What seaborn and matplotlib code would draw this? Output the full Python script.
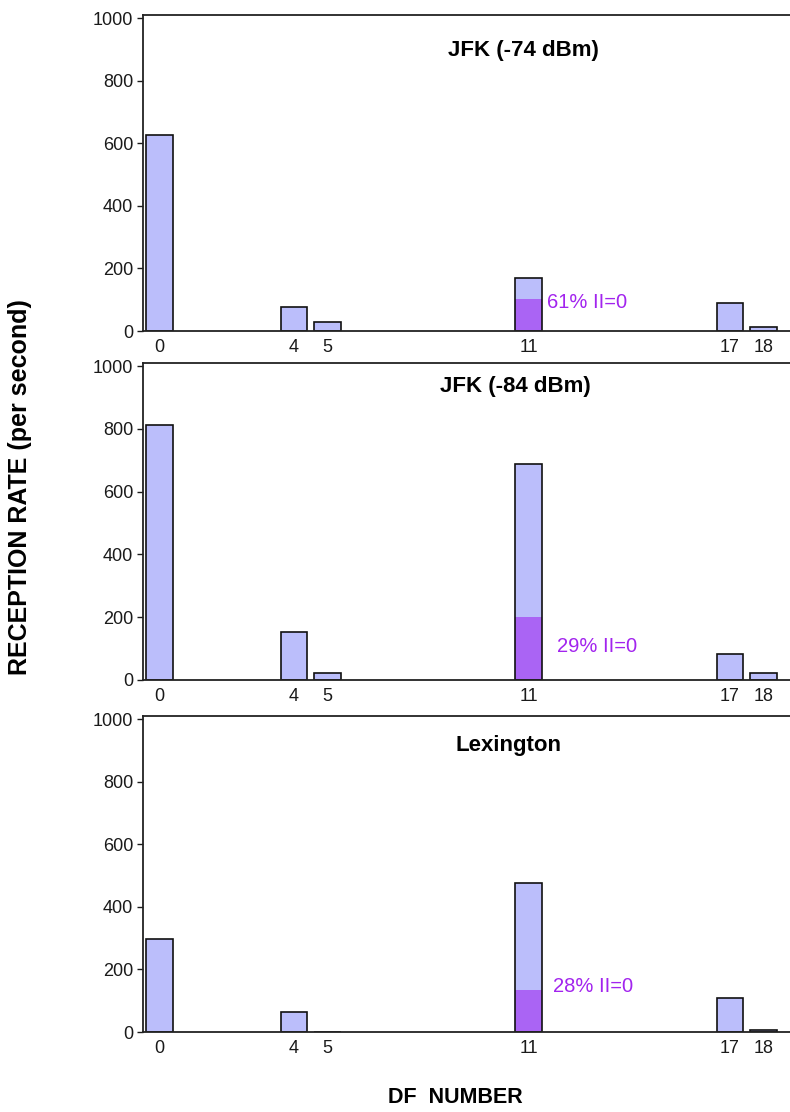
import matplotlib
matplotlib.use("Agg")
import matplotlib.pyplot as plt
import seaborn as sns
import pandas as pd

# DF numbers observed and reception rates (messages per second) at each site
df_numbers = [0, 4, 5, 11, 17, 18]
rates_jfk74 = [625, 78, 30, 170, 90, 14]
rates_jfk84 = [812, 153, 22, 688, 83, 22]
rates_lex = [298, 64, 0, 475, 109, 6]

# share of DF 11 messages with II=0, in percent
ii0_pct = [61, 29, 28]
panel_titles = ["JFK (-74 dBm)", "JFK (-84 dBm)", "Lexington"]
y_ticks = [0, 200, 400, 600, 800, 1000]

sns.set_theme(style="white")
plt.rcParams["font.family"] = ["Liberation Sans", "DejaVu Sans"]

LAVENDER = "#bbbefb"
PURPLE = "#aa64f4"
TEXT_PURPLE = "#a224ee"

fig = plt.figure(figsize=(7.9, 11.12), dpi=100)

# axes boxes [left, bottom, width, height] in figure fractions
boxes = [
    [0.181, 0.7023, 0.8195, 0.2842],
    [0.181, 0.3885, 0.8195, 0.2850],
    [0.181, 0.0719, 0.8195, 0.2842],
]
label_xy = [(11.55, 92), (11.85, 108), (11.72, 144)]
title_xy = [(10.85, 895), (10.6, 935), (10.4, 915)]

for box, rates, pct, title, (lx, ly), (tx, ty) in zip(
        boxes, [rates_jfk74, rates_jfk84, rates_lex], ii0_pct, panel_titles,
        label_xy, title_xy):
    ax = fig.add_axes(box)
    data = pd.DataFrame({"df": df_numbers, "rate": rates})
    data["ii0"] = [r * pct / 100 if d == 11 else 0
                   for d, r in zip(df_numbers, rates)]

    sns.barplot(data=data, x="df", y="rate", native_scale=True, width=0.8,
                color=LAVENDER, saturation=1, linewidth=0, ax=ax)
    sns.barplot(data=data, x="df", y="ii0", native_scale=True, width=0.8,
                color=PURPLE, saturation=1, linewidth=0, ax=ax)
    sns.barplot(data=data, x="df", y="rate", native_scale=True, width=0.8,
                color="#111111", fill=False, linewidth=1.2, ax=ax)

    ax.set_xlim(-0.5, 18.8)
    ax.set_ylim(0, 1010)
    ax.set_xticks(df_numbers)
    ax.set_xticklabels([str(d) for d in df_numbers])
    ax.set_yticks(y_ticks)
    ax.set_yticklabels([str(t) for t in y_ticks])
    ax.tick_params(axis="x", length=0, pad=6, labelsize=13, colors="#1a1a1a")
    ax.tick_params(axis="y", length=4, width=1, direction="out", left=True,
                   pad=3, labelsize=13, colors="#1a1a1a")
    ax.set_xlabel("")
    ax.set_ylabel("")
    for side in ["left", "bottom", "top"]:
        ax.spines[side].set_visible(True)
        ax.spines[side].set_color("#222222")
        ax.spines[side].set_linewidth(1.3)
    ax.spines["right"].set_visible(False)

    ax.text(lx, ly, f"{pct}% II=0", color=TEXT_PURPLE, fontsize=14.5,
            ha="left", va="center")
    ax.text(tx, ty, title, fontsize=16, fontweight="bold", ha="center",
            va="center", color="black")

fig.text(0.025, 0.562, "RECEPTION RATE (per second)", rotation=90,
         fontsize=18, fontweight="bold", ha="center", va="center",
         color="black")
fig.text(0.576, 0.013, "DF  NUMBER", fontsize=15.5, fontweight="bold",
         ha="center", va="center", color="black")

fig.savefig("out.png", dpi=100)
